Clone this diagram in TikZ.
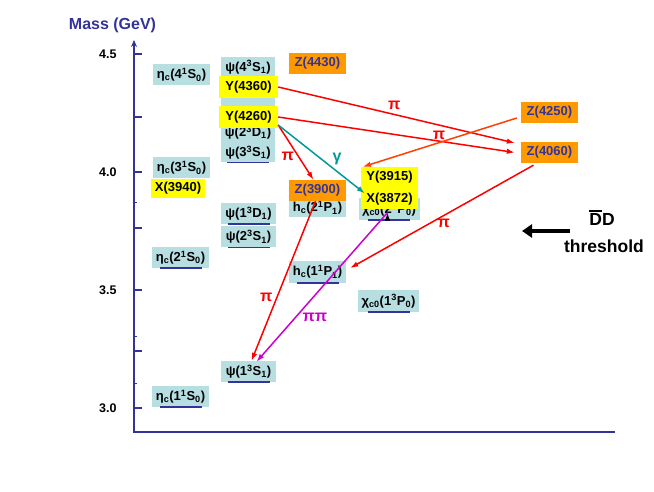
\documentclass[tikz,border=0pt]{standalone}
\usepackage{fontspec}
\setmainfont{Liberation Sans}
\usetikzlibrary{arrows.meta, positioning}

\definecolor{lvlblue}{RGB}{183,222,225}
\definecolor{zorange}{RGB}{255,153,0}
\definecolor{xyellow}{RGB}{255,255,0}
\definecolor{axisblue}{RGB}{51,51,153}
\definecolor{pired}{RGB}{255,0,0}
\definecolor{zred}{RGB}{255,64,0}
\definecolor{gamteal}{RGB}{0,153,153}
\definecolor{pipimag}{RGB}{204,0,204}

\newcommand{\spec}[4]{#1\textsuperscript{#2}#3\textsubscript{#4}}
\newcommand{\dbar}{\makebox[0pt][l]{\rule[0.8em]{0.72em}{0.1em}}D}

\begin{document}
\begin{tikzpicture}[x=1pt, y=1pt,
        lvl/.style={fill=lvlblue, minimum width=57pt, minimum height=21pt, inner sep=0pt,
            font=\fontsize{13}{14}\selectfont\bfseries},
        exotic/.style={lvl, fill=xyellow},
        charged/.style={lvl, fill=zorange, text=axisblue},
        uline/.style={axisblue, line width=1.5pt},
        massaxis/.style={axisblue, line width=2pt},
        ticklab/.style={font=\fontsize{12.5}{14}\selectfont\bfseries, anchor=east},
        trans/.style={line width=1.5pt, -{Latex[length=8pt,width=5.5pt]}},
        lab/.style={font=\fontsize{16}{16}\selectfont\bfseries, inner sep=1pt}
    ]
        \useasboundingbox (0,0) rectangle (654,491);

        \coordinate (origin) at (134,59);
        \coordinate (ytop) at (134,451);
        \coordinate (xend) at (615,59);
        \draw[massaxis, {Stealth[length=7pt,width=6pt]}-] (ytop) -- (origin) -- (xend);
        \foreach \y in {437,374,319,263,201,140,83}
            \draw[massaxis] (134,\y) -- ++(8,0);
        \foreach \y in {288,155,108}
            \draw[massaxis, line width=1pt] (134,\y) -- ++(3,0);

        \node[font=\fontsize{16}{18}\selectfont\bfseries, text=axisblue] (masslab) at (112.5,466) {Mass (GeV)};
        \node[ticklab] (m45) at (120,437) {4.5};
        \node[ticklab] (m40) at (120,319) {4.0};
        \node[ticklab] (m35) at (120,201) {3.5};
        \node[ticklab] (m30) at (120,83) {3.0};

        \node[lvl] (etac4) at (181.5,416) {η\textsubscript{c}(\spec{4}{1}{S}{0})};
        \node[lvl] (etac3) at (181.5,323) {η\textsubscript{c}(\spec{3}{1}{S}{0})};
        \node[exotic, minimum width=54pt, minimum height=19pt] (X3940) at (178,302.5) {X(3940)};
        \node[lvl] (etac2) at (180.5,233.5) {η\textsubscript{c}(\spec{2}{1}{S}{0})};
        \node[lvl] (etac1) at (180.5,94.5) {η\textsubscript{c}(\spec{1}{1}{S}{0})};

        \node[lvl, minimum width=54pt, minimum height=20pt] (psi4S) at (248,424) {ψ(\spec{4}{3}{S}{1})};
        \node[lvl, minimum width=54pt, minimum height=19pt] (psi2D) at (248,358.5) {ψ(\spec{2}{3}{D}{1})};
        \node[lvl, minimum width=54pt, minimum height=20pt, below=0pt of psi2D] (psi3S) {ψ(\spec{3}{3}{S}{1})};
        \fill[lvlblue] (psi4S.south west) rectangle (psi2D.north east);
        \node[exotic, minimum width=59pt, minimum height=22pt] (Y4360) at (248.5,404) {Y(4360)};
        \node[exotic, minimum width=59pt, minimum height=22pt] (Y4260) at (248.5,374) {Y(4260)};
        \node[lvl, minimum width=55pt] (psi1D) at (248.5,277.5) {ψ(\spec{1}{3}{D}{1})};
        \node[lvl, minimum width=55pt, below=2pt of psi1D] (psi2S) {ψ(\spec{2}{3}{S}{1})};
        \node[lvl, minimum width=55pt] (psi1S) at (248.5,119.5) {ψ(\spec{1}{3}{S}{1})};

        \node[charged] (Z4430) at (317.5,427.5) {Z(4430)};
        \node[lvl, minimum height=18pt] (hc2P) at (317.5,283) {h\textsubscript{c}(\spec{2}{1}{P}{1})};
        \node[charged] (Z3900) at (317.5,300.5) {Z(3900)};
        \node[lvl, minimum height=22pt] (hc1P) at (317.5,219) {h\textsubscript{c}(\spec{1}{1}{P}{1})};

        \node[lvl, minimum width=61pt, minimum height=22pt] (chi2P) at (389,282) {χ\textsubscript{c0}(\spec{2}{3}{P}{0})};
        \node[exotic] (Y3915) at (389.5,313.5) {Y(3915)};
        \node[exotic, below=0pt of Y3915] (X3872) {X(3872)};
        \node[lvl, minimum width=61pt, minimum height=22pt] (chi1P) at (388.5,190) {χ\textsubscript{c0}(\spec{1}{3}{P}{0})};

        \node[charged] (Z4250) at (549.5,378.5) {Z(4250)};
        \node[charged] (Z4060) at (549.5,338.5) {Z(4060)};

        \foreach \n in {etac2,etac1,psi3S,psi1D,psi2S,psi1S,hc1P,chi2P,chi1P}
            \draw[uline] ([xshift=-21pt]\n.south) -- ([xshift=21pt]\n.south);

        \node[font=\fontsize{17.5}{20}\selectfont\bfseries] (ddbar) at (602,273) {\dbar D};
        \node[font=\fontsize{17.5}{20}\selectfont\bfseries] (thr) at (604,245) {threshold};
        \coordinate (thrtail) at (570,260);
        \coordinate (thrhead) at (522,260);
        \draw[line width=4pt, -{Triangle[length=10pt,width=13pt]}] (thrtail) -- (thrhead);

        \draw[trans]
            (Y4360.east) edge[pired] node[lab, above=3pt, pos=0.49] {π} ([shift={(-6,9.5)}]Z4060.west)
            (Y4260.east) edge[pired] node[lab, above=0pt, pos=0.68] {π} ([xshift=-6]Z4060.west)
            ([yshift=-8]Y4260.east) edge[pired] node[lab, left=3pt, pos=0.58] {π} ([xshift=-4]Z3900.north)
            ([yshift=-8]Y4260.east) edge[gamteal] node[lab, above=5pt, pos=0.68] {γ} ([shift={(4,5.5)}]X3872.west)
            ([shift={(-4,-5.5)}]Z4250.west) edge[zred] ([xshift=2]Y3915.north west)
            ([shift={(-16,-2)}]Z4060.south) edge[pired] node[lab, below=2pt, pos=0.49] {π} ([shift={(4,4)}]hc1P.east)
            ([xshift=-2]Z3900.south) edge[pired] node[lab, left=3pt, pos=0.6] {π} ([xshift=3]psi1S.north)
            ([shift={(-2,-3)}]X3872.south) edge[pipimag] node[lab, right=5pt, pos=0.7] {ππ} ([shift={(8,-1)}]psi1S.north);
    \end{tikzpicture}
\end{document}
